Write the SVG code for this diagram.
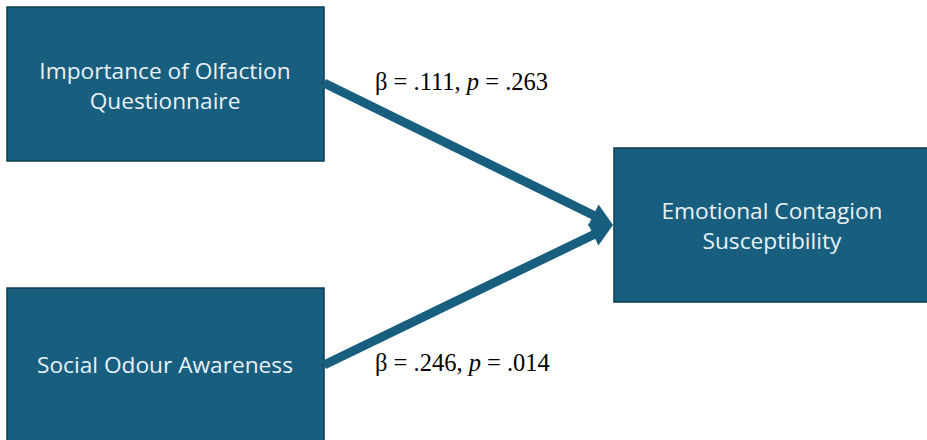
<svg xmlns="http://www.w3.org/2000/svg" width="927" height="440" viewBox="0 0 927 440">
<style>
.box{fill:#175E7F;stroke:#0E3D54;stroke-width:1.5}
.nt{font-family:"Open Sans","Noto Sans",sans-serif;font-size:22.7px;fill:#EAF1F5;text-anchor:middle}
.lbl{font-family:"Liberation Serif","Times New Roman",serif;font-size:24.5px;fill:#000}
.con{stroke:#175E7F;stroke-width:9;fill:none}
.head{fill:#175E7F}
</style>
<rect width="927" height="440" fill="#fff"/>
<g id="n1"><rect class="box" x="7" y="7" width="317" height="154"/>
<text class="nt" x="165" y="79">Importance of Olfaction</text>
<text class="nt" x="165" y="109">Questionnaire</text></g>
<g id="n2"><rect class="box" x="7" y="288" width="317" height="160"/>
<text class="nt" x="165" y="373">Social Odour Awareness</text></g>
<g id="n3"><rect class="box" x="614" y="148" width="320" height="154"/>
<text class="nt" x="772" y="219">Emotional Contagion</text>
<text class="nt" x="772" y="249">Susceptibility</text></g>
<g id="connectors">
<line class="con" x1="324" y1="83" x2="595" y2="216"/>
<polygon class="head" points="613,225 588,226.1 598.6,204.5"/>
<line class="con" x1="324" y1="365" x2="595" y2="234"/>
<polygon class="head" points="613,225 598.4,245.4 588,223.8"/>
<text class="lbl" x="375" y="90">β = .111, <tspan font-style="italic">p</tspan> = .263</text>
<text class="lbl" x="375" y="371">β = .246, <tspan font-style="italic">p</tspan> = .014</text>
</g>
</svg>
